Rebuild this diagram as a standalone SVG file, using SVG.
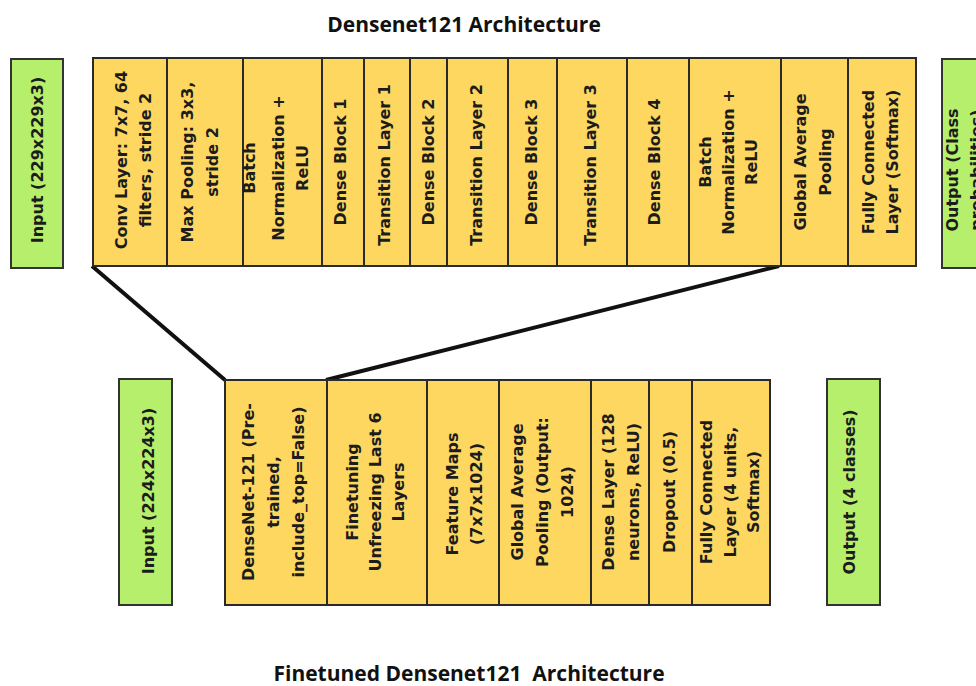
<svg xmlns="http://www.w3.org/2000/svg" width="976" height="686" viewBox="0 0 976 686">
<style>
.y{fill:#FDD760;stroke:#2a2a2a;stroke-width:2}
.g{fill:#B6EF6B;stroke:#333;stroke-width:2}
.t{font-family:"DejaVu Sans","Liberation Sans",sans-serif;font-weight:bold;font-size:16px;fill:#1c1c1c;text-anchor:middle}
.h{font-family:"Open Sans","Liberation Sans",sans-serif;font-weight:bold;font-size:21px;fill:#111;text-anchor:middle}
.c{stroke:#111;stroke-width:4;fill:none}
</style>
<rect width="976" height="686" fill="#fff"/>
<text class="h" x="464" y="32">Densenet121 Architecture</text>
<text class="h" x="469" y="681" xml:space="preserve">Finetuned Densenet121  Architecture</text>
<g id="connectors">
<line class="c" x1="92" y1="266" x2="225" y2="380"/>
<line class="c" x1="779" y1="266" x2="326" y2="380"/>
</g>
<!-- top row -->
<g id="t_input"><rect class="g" x="11" y="59" width="52" height="209"/>
<text class="t" transform="translate(0,160) rotate(-90)"><tspan x="0" y="43">Input (229x229x3)</tspan></text></g>
<g id="t_conv"><rect class="y" x="93" y="58" width="74" height="208"/>
<text class="t" transform="translate(0,160) rotate(-90)"><tspan x="0" y="127">Conv Layer: 7x7, 64</tspan><tspan x="0" y="151">filters, stride 2</tspan></text></g>
<g id="t_maxpool"><rect class="y" x="167" y="58" width="76" height="208"/>
<text class="t" transform="translate(0,162) rotate(-90)"><tspan x="0" y="193">Max Pooling: 3x3,</tspan><tspan x="0" y="218">stride 2</tspan></text></g>
<g id="t_bn1"><rect class="y" x="243" y="58" width="79" height="208"/>
<text class="t" transform="translate(0,168) rotate(-90)"><tspan x="0" y="255">Batch</tspan><tspan x="0" y="284">Normalization +</tspan><tspan x="0" y="308">ReLU</tspan></text></g>
<g id="t_db1"><rect class="y" x="322" y="58" width="42" height="208"/>
<text class="t" transform="translate(0,162) rotate(-90)"><tspan x="0" y="346">Dense Block 1</tspan></text></g>
<g id="t_tl1"><rect class="y" x="364" y="58" width="46" height="208"/>
<text class="t" transform="translate(0,165) rotate(-90)"><tspan x="0" y="390">Transition Layer 1</tspan></text></g>
<g id="t_db2"><rect class="y" x="410" y="58" width="37" height="208"/>
<text class="t" transform="translate(0,162) rotate(-90)"><tspan x="0" y="434">Dense Block 2</tspan></text></g>
<g id="t_tl2"><rect class="y" x="447" y="58" width="61" height="208"/>
<text class="t" transform="translate(0,165) rotate(-90)"><tspan x="0" y="482">Transition Layer 2</tspan></text></g>
<g id="t_db3"><rect class="y" x="508" y="58" width="49" height="208"/>
<text class="t" transform="translate(0,162) rotate(-90)"><tspan x="0" y="537">Dense Block 3</tspan></text></g>
<g id="t_tl3"><rect class="y" x="557" y="58" width="70" height="208"/>
<text class="t" transform="translate(0,165) rotate(-90)"><tspan x="0" y="596">Transition Layer 3</tspan></text></g>
<g id="t_db4"><rect class="y" x="627" y="58" width="62" height="208"/>
<text class="t" transform="translate(0,162) rotate(-90)"><tspan x="0" y="660">Dense Block 4</tspan></text></g>
<g id="t_bn2"><rect class="y" x="689" y="58" width="92" height="208"/>
<text class="t" transform="translate(0,162) rotate(-90)"><tspan x="0" y="711">Batch</tspan><tspan x="0" y="734">Normalization +</tspan><tspan x="0" y="757">ReLU</tspan></text></g>
<g id="t_gap"><rect class="y" x="781" y="58" width="67" height="208"/>
<text class="t" transform="translate(0,162) rotate(-90)"><tspan x="0" y="806">Global Average</tspan><tspan x="0" y="831">Pooling</tspan></text></g>
<g id="t_fc"><rect class="y" x="848" y="58" width="68" height="208"/>
<text class="t" transform="translate(0,162) rotate(-90)"><tspan x="0" y="874">Fully Connected</tspan><tspan x="0" y="898">Layer (Softmax)</tspan></text></g>
<g id="t_output"><rect class="g" x="942" y="59" width="60" height="209"/>
<text class="t" transform="translate(0,170) rotate(-90)"><tspan x="0" y="958">Output (Class</tspan><tspan x="0" y="982">probabilities)</tspan></text></g>
<!-- bottom row -->
<g id="b_input"><rect class="g" x="119" y="379" width="53" height="226"/>
<text class="t" transform="translate(0,491) rotate(-90)"><tspan x="0" y="154">Input (224x224x3)</tspan></text></g>
<g id="b_densenet"><rect class="y" x="225" y="380" width="102" height="225"/>
<text class="t" transform="translate(0,492) rotate(-90)"><tspan x="0" y="254">DenseNet-121 (Pre-</tspan><tspan x="0" y="279">trained,</tspan><tspan x="0" y="304">include_top=False)</tspan></text></g>
<g id="b_finetune"><rect class="y" x="327" y="380" width="100" height="225"/>
<text class="t" transform="translate(0,492) rotate(-90)"><tspan x="0" y="358">Finetuning</tspan><tspan x="0" y="381">Unfreezing Last 6</tspan><tspan x="0" y="404">Layers</tspan></text></g>
<g id="b_feature"><rect class="y" x="427" y="380" width="72" height="225"/>
<text class="t" transform="translate(0,494) rotate(-90)"><tspan x="0" y="458">Feature Maps</tspan><tspan x="0" y="482">(7x7x1024)</tspan></text></g>
<g id="b_gap"><rect class="y" x="499" y="380" width="92" height="225"/>
<text class="t" transform="translate(0,492) rotate(-90)"><tspan x="0" y="523">Global Average</tspan><tspan x="0" y="548">Pooling (Output:</tspan><tspan x="0" y="573">1024)</tspan></text></g>
<g id="b_dense"><rect class="y" x="591" y="380" width="58" height="225"/>
<text class="t" transform="translate(0,492) rotate(-90)"><tspan x="0" y="614">Dense Layer (128</tspan><tspan x="0" y="639">neurons, ReLU)</tspan></text></g>
<g id="b_dropout"><rect class="y" x="649" y="380" width="43" height="225"/>
<text class="t" transform="translate(0,492) rotate(-90)"><tspan x="0" y="675">Dropout (0.5)</tspan></text></g>
<g id="b_fc"><rect class="y" x="692" y="380" width="78" height="225"/>
<text class="t" transform="translate(0,492) rotate(-90)"><tspan x="0" y="712">Fully Connected</tspan><tspan x="0" y="736">Layer (4 units,</tspan><tspan x="0" y="759">Softmax)</tspan></text></g>
<g id="b_output"><rect class="g" x="827" y="379" width="53" height="226"/>
<text class="t" transform="translate(0,492) rotate(-90)"><tspan x="0" y="855">Output (4 classes)</tspan></text></g>
</svg>
